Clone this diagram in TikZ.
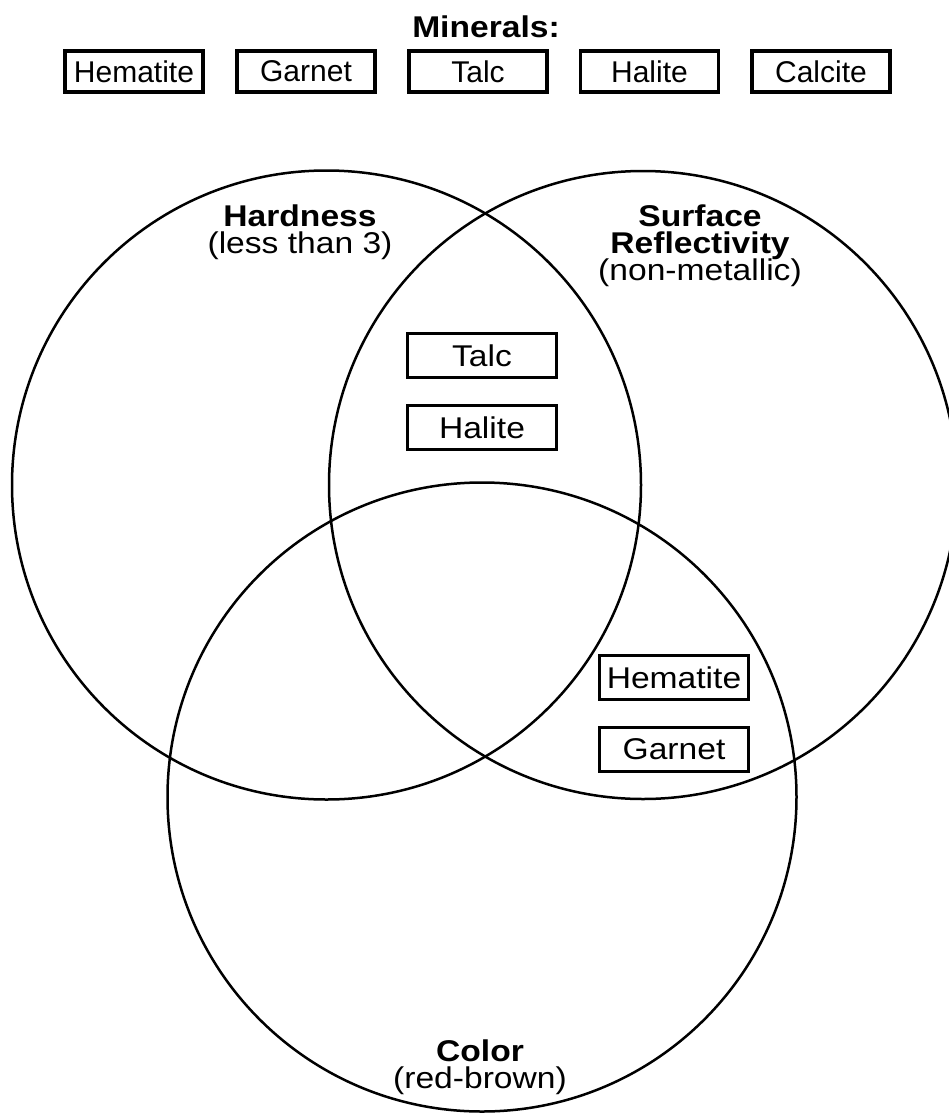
\documentclass[tikz,border=0pt]{standalone}
\usepackage{fontspec}
\setmainfont{Liberation Sans}
\newfontfamily\widefont[FakeStretch=1.12]{Liberation Sans}
\begin{document}
\begin{tikzpicture}[x=1pt,y=-1pt,
  head/.style={font=\widefont\fontsize{30}{27}\selectfont\bfseries, inner sep=0pt, anchor=base},
  label/.style={font={\widefont\fontsize{30}{27}\selectfont\lineskiplimit=-30pt}, inner sep=0pt, anchor=north, align=center},
  topbox/.style={draw, line width=3.3pt, minimum width=138pt, minimum height=41pt, font=\fontsize{30}{32}\selectfont, inner sep=0pt},
  inbox/.style={draw, line width=2.5pt, minimum width=149pt, minimum height=44pt, font=\widefont\fontsize{30}{32}\selectfont, inner sep=0pt},
  ring/.style={line width=2.5pt}]
\useasboundingbox (0,0) rectangle (948,1114);
\fill[white] (0,0) rectangle (948,1114);
% circles
\coordinate (cL) at (326.5,485);
\coordinate (cR) at (643,485);
\coordinate (cB) at (482,797);
\draw[ring] (cL) circle[radius=314.5];
\draw[ring] (cR) circle[radius=314];
\draw[ring] (cB) circle[radius=314.5];
% title and list
\node[head] (title) at (486,37) {Minerals:};
\node[topbox] (t1) at (134,71.5) {Hematite};
\node[topbox] (t2) at (306,71.5) {Garnet};
\node[topbox] (t3) at (478,71.5) {Talc};
\node[topbox] (t4) at (649.5,71.5) {Halite};
\node[topbox] (t5) at (821,71.5) {Calcite};
% headings
\node[label] (hL) at (300,204.2) {\textbf{Hardness}\\(less than 3)};
\node[label] (hR) at (700,205) {\textbf{Surface}\\\textbf{Reflectivity}\\(non-metallic)};
\node[label] (hB) at (480,1040) {\textbf{Color}\\(red-brown)};
% region contents
\node[inbox] (talc) at (482,355.5) {Talc};
\node[inbox] (halite) at (482,427.5) {Halite};
\node[inbox] (hem) at (674,677.5) {Hematite};
\node[inbox] (gar) at (674,749.5) {Garnet};
\end{tikzpicture}
\end{document}
